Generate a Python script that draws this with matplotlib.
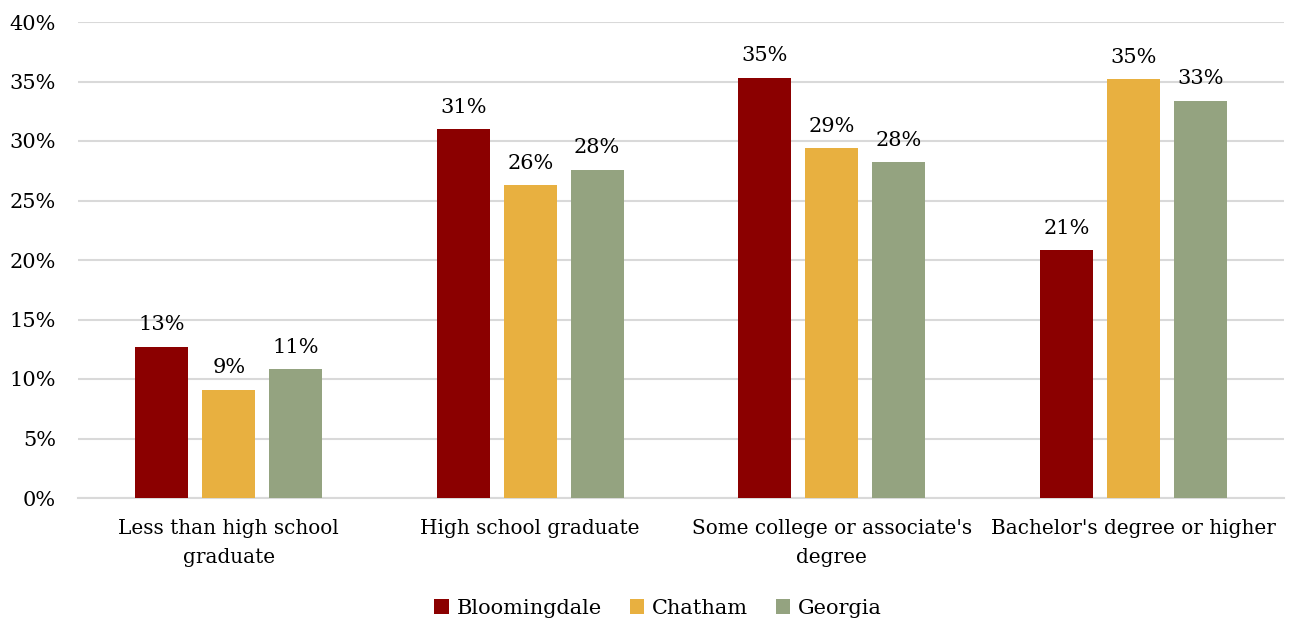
import matplotlib.pyplot as plt
import numpy as np
from matplotlib.ticker import PercentFormatter

plt.rcParams['font.family'] = ['DejaVu Serif']

categories = ["Less than high school\ngraduate", "High school graduate",
              "Some college or associate's\ndegree", "Bachelor's degree or higher"]
series_names = ["Bloomingdale", "Chatham", "Georgia"]
bloomingdale = [12.7, 31.0, 35.3, 20.8]
chatham = [9.1, 26.3, 29.4, 35.2]
georgia = [10.8, 27.6, 28.2, 33.4]
colors = ["#8B0000", "#E8B040", "#94A380"]

fig = plt.figure(figsize=(12.89, 6.23), dpi=100)
ax = fig.add_axes([78/1289, 125/623, 1206/1289, 476/623])

x = np.arange(len(categories))
width = 0.176
offset = 0.222
for i, (name, vals) in enumerate(zip(series_names, [bloomingdale, chatham, georgia])):
    bars = ax.bar(x + (i - 1) * offset, vals, width, color=colors[i], label=name, zorder=3)
    for b, v in zip(bars, vals):
        ax.annotate(f"{v:.0f}%", (b.get_x() + b.get_width() / 2, v),
                    xytext=(0, 9), textcoords="offset points",
                    ha="center", va="bottom", fontsize=15)

ax.set_xlim(-0.5, 3.5)
ax.set_ylim(0, 40)
ax.set_yticks(np.arange(0, 41, 5))
ax.yaxis.set_major_formatter(PercentFormatter(decimals=0))
ax.set_xticks(x)
ax.set_xticklabels(categories, fontsize=14.4, linespacing=1.7)
ax.tick_params(axis="y", labelsize=15, length=0, pad=16)
ax.tick_params(axis="x", length=0, pad=15)
ax.grid(axis="y", color="#d9d9d9", linewidth=1.5, zorder=0)
for s in ["top", "right", "left"]:
    ax.spines[s].set_visible(False)
ax.spines["bottom"].set_color("#d9d9d9")
ax.spines["bottom"].set_linewidth(1.5)

fig.legend(loc="center", bbox_to_anchor=(658/1289, 1 - 608/623), ncol=3,
           frameon=False, fontsize=15, handlelength=0.7, handleheight=0.7,
           handletextpad=0.35, columnspacing=1.35)

fig.savefig("out.png", dpi=100)
